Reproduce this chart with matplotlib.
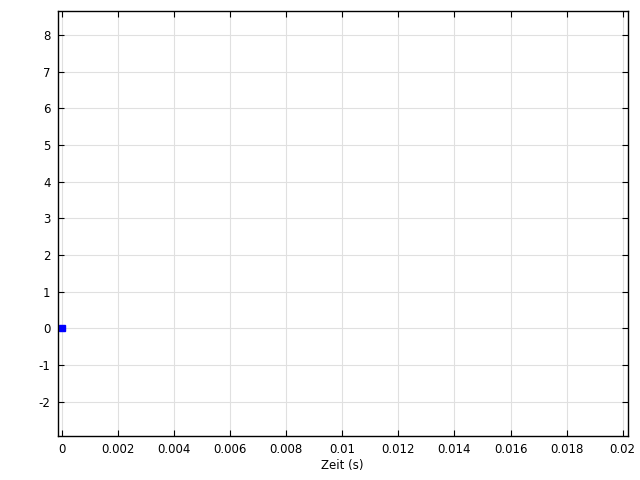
import matplotlib
matplotlib.use("Agg")
import matplotlib.pyplot as plt

time_s = [0.0]
values = [0.0]
xticks = [0, 0.002, 0.004, 0.006, 0.008, 0.01, 0.012, 0.014, 0.016, 0.018, 0.02]
xticklabels = ["0", "0.002", "0.004", "0.006", "0.008", "0.01", "0.012", "0.014", "0.016", "0.018", "0.02"]
yticks = [-2, -1, 0, 1, 2, 3, 4, 5, 6, 7, 8]
yticklabels = ["-2", "-1", "0", "1", "2", "3", "4", "5", "6", "7", "8"]

fig = plt.figure(figsize=(6.4, 4.8), dpi=100)
ax = fig.add_axes([57.5/640, 1-436/480, (627.7-57.5)/640, (436-11.3)/480])
ax.plot(time_s, values, linestyle='none', marker='s', markersize=3.8, color='#0000ff')
ax.set_xlim(-0.00016, 0.020178)
ax.set_ylim(-2.937, 8.645)
ax.set_xticks(xticks)
ax.set_xticklabels(xticklabels)
ax.set_yticks(yticks)
ax.set_yticklabels(yticklabels)
ax.grid(True, color='#e0e0e0', linewidth=0.8)
ax.set_axisbelow(True)
ax.tick_params(direction='in', top=True, right=True, labelsize=8.5, length=4, width=0.8, colors='black', pad=5)
for s in ax.spines.values():
    s.set_linewidth(1.0)
ax.set_xlabel("Zeit (s)", fontsize=8.5, labelpad=2)
fig.savefig("out.png", dpi=100)
